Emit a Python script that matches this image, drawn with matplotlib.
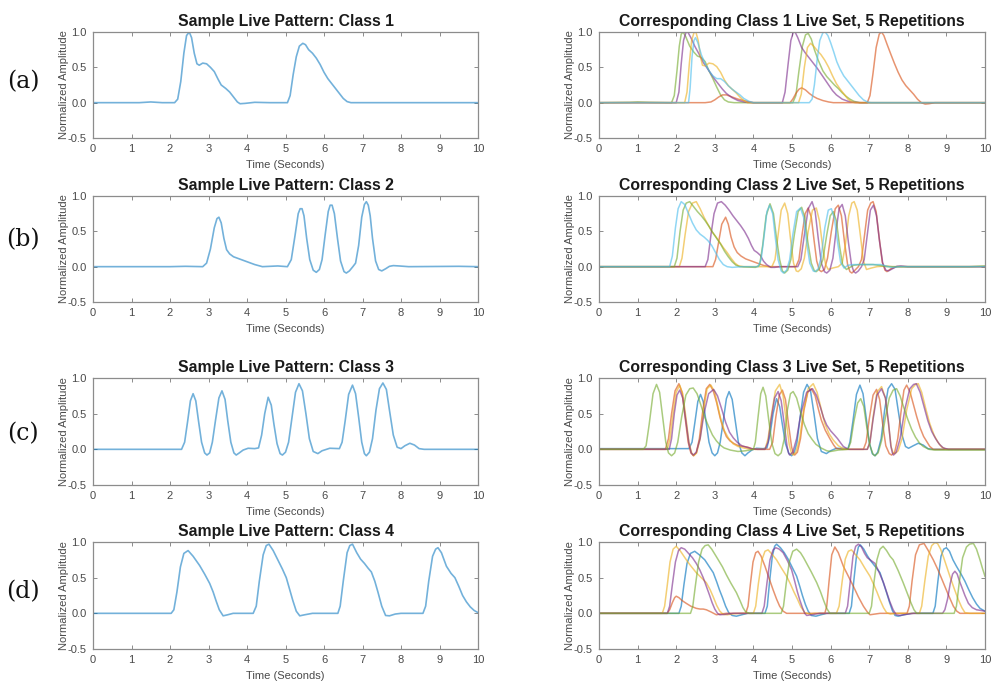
import numpy as np
import matplotlib
matplotlib.use('Agg')
import matplotlib.pyplot as plt

# --- chart data: (time [s], normalized amplitude) pairs ---
x_ticks = [0, 1, 2, 3, 4, 5, 6, 7, 8, 9, 10]
y_ticks = [-0.5, 0.0, 0.5, 1.0]
y_tick_labels = ['-0.5', '0.0', '0.5', '1.0']
panel_labels = ['(a)', '(b)', '(c)', '(d)']
class_names = ['1', '2', '3', '4']

c1_sample = [(0, 0), (1.2, 0), (1.5, 0.01), (1.8, 0), (2.12, 0), (2.2, 0.05), (2.28, 0.3), (2.36, 0.7),
             (2.43, 0.95), (2.5, 1.0), (2.56, 0.92), (2.63, 0.7), (2.7, 0.55), (2.76, 0.53), (2.85, 0.56),
             (2.95, 0.55), (3.05, 0.5), (3.15, 0.44), (3.25, 0.33), (3.33, 0.25), (3.45, 0.2), (3.55, 0.15),
             (3.65, 0.08), (3.75, 0.01), (3.82, -0.015), (3.95, -0.01), (4.2, 0.005), (4.6, 0), (5.05, 0),
             (5.12, 0.1), (5.2, 0.4), (5.28, 0.65), (5.36, 0.8), (5.45, 0.84), (5.52, 0.82), (5.6, 0.75),
             (5.7, 0.7), (5.8, 0.63), (5.9, 0.54), (6.0, 0.43), (6.1, 0.34), (6.2, 0.27), (6.3, 0.2),
             (6.4, 0.13), (6.5, 0.06), (6.6, 0.015), (6.7, 0), (10, 0)]

c2_sample = [(0, 0), (2.0, 0), (2.4, 0.005), (2.85, 0), (2.95, 0.05), (3.05, 0.25), (3.15, 0.55), (3.22, 0.68),
             (3.27, 0.7), (3.33, 0.62), (3.4, 0.4), (3.47, 0.24), (3.55, 0.18), (3.65, 0.14), (3.8, 0.11),
             (4.0, 0.07), (4.2, 0.03), (4.4, 0), (4.6, 0.005), (4.8, 0.01), (5.05, 0), (5.15, 0.1), (5.25, 0.45),
             (5.33, 0.75), (5.38, 0.82), (5.43, 0.82), (5.48, 0.72), (5.55, 0.4), (5.63, 0.1), (5.72, -0.05),
             (5.8, -0.08), (5.88, -0.04), (5.95, 0.1), (6.03, 0.45), (6.11, 0.78), (6.16, 0.87), (6.21, 0.87),
             (6.27, 0.75), (6.35, 0.4), (6.43, 0.08), (6.52, -0.07), (6.58, -0.09), (6.66, -0.06), (6.75, 0.0),
             (6.82, 0.05), (6.9, 0.3), (6.98, 0.7), (7.05, 0.88), (7.1, 0.92), (7.15, 0.87), (7.2, 0.72),
             (7.26, 0.4), (7.34, 0.08), (7.42, -0.04), (7.5, -0.06), (7.6, -0.03), (7.7, 0.005), (7.8, 0.015),
             (7.95, 0.01), (8.2, 0), (9.5, 0.005), (10, 0)]

c3_sample = [(0, 0), (2.3, 0), (2.38, 0.1), (2.46, 0.4), (2.53, 0.68), (2.6, 0.78), (2.67, 0.68), (2.74, 0.4),
             (2.82, 0.1), (2.9, -0.05), (2.96, -0.08), (3.03, -0.05), (3.1, 0.1), (3.18, 0.4), (3.27, 0.72),
             (3.35, 0.82), (3.43, 0.7), (3.5, 0.4), (3.58, 0.1), (3.66, -0.05), (3.72, -0.08), (3.8, -0.05),
             (3.9, -0.01), (4.03, 0.015), (4.2, 0.01), (4.3, 0.02), (4.38, 0.2), (4.46, 0.5), (4.55, 0.73),
             (4.63, 0.62), (4.7, 0.35), (4.78, 0.08), (4.86, -0.06), (4.92, -0.08), (5.0, -0.04), (5.08, 0.1),
             (5.17, 0.45), (5.26, 0.8), (5.35, 0.92), (5.44, 0.82), (5.53, 0.5), (5.62, 0.15), (5.72, -0.03),
             (5.84, -0.06), (5.95, -0.02), (6.15, 0.015), (6.4, 0.01), (6.47, 0.1), (6.55, 0.4), (6.64, 0.77),
             (6.74, 0.9), (6.82, 0.78), (6.9, 0.45), (6.98, 0.1), (7.05, -0.06), (7.1, -0.09), (7.18, -0.04),
             (7.26, 0.15), (7.35, 0.55), (7.44, 0.85), (7.53, 0.93), (7.62, 0.84), (7.7, 0.55), (7.8, 0.2),
             (7.9, 0.03), (8.0, 0.01), (8.1, 0.05), (8.23, 0.085), (8.35, 0.06), (8.47, 0.01), (8.6, 0),
             (10, 0)]

c4_sample = [(0, 0), (2.03, 0), (2.1, 0.05), (2.18, 0.3), (2.27, 0.65), (2.36, 0.84), (2.47, 0.88), (2.6, 0.8),
             (2.77, 0.67), (2.9, 0.55), (3.03, 0.42), (3.12, 0.3), (3.2, 0.17), (3.28, 0.05), (3.38, -0.035),
             (3.5, -0.02), (3.64, 0), (4.16, 0), (4.24, 0.1), (4.32, 0.45), (4.42, 0.82), (4.5, 0.95),
             (4.57, 0.97), (4.68, 0.88), (4.8, 0.75), (4.92, 0.62), (5.02, 0.5), (5.1, 0.35), (5.19, 0.18),
             (5.28, 0.03), (5.37, -0.035), (5.5, -0.02), (5.7, 0), (6.36, 0), (6.42, 0.1), (6.5, 0.45),
             (6.6, 0.85), (6.67, 0.95), (6.74, 0.97), (6.85, 0.85), (6.95, 0.76), (7.05, 0.7), (7.15, 0.63),
             (7.23, 0.58), (7.32, 0.45), (7.4, 0.3), (7.5, 0.1), (7.6, -0.03), (7.7, -0.035), (7.85, -0.01),
             (8.0, 0), (8.57, 0), (8.64, 0.1), (8.72, 0.45), (8.82, 0.8), (8.9, 0.9), (8.96, 0.92),
             (9.05, 0.85), (9.18, 0.66), (9.3, 0.56), (9.4, 0.5), (9.5, 0.38), (9.6, 0.25), (9.7, 0.16),
             (9.8, 0.09), (9.9, 0.04), (10, 0.01)]

# class 1 live set
c1_green = [(0, 0), (0.8, 0.005), (1.0, 0.01), (1.3, 0.005), (1.88, 0), (1.95, 0.1), (2.02, 0.45), (2.08, 0.8),
            (2.13, 0.97), (2.18, 1.0), (2.25, 0.93), (2.35, 0.8), (2.45, 0.72), (2.55, 0.66), (2.65, 0.64),
            (2.75, 0.58), (2.85, 0.45), (2.95, 0.34), (3.05, 0.22), (3.15, 0.11), (3.25, 0.04), (3.35, 0.01),
            (3.5, 0), (5.02, 0), (5.1, 0.1), (5.18, 0.45), (5.27, 0.8), (5.35, 0.96), (5.42, 0.98), (5.5, 0.9),
            (5.58, 0.75), (5.68, 0.6), (5.8, 0.45), (5.9, 0.37), (6.0, 0.31), (6.1, 0.25), (6.2, 0.2),
            (6.3, 0.14), (6.4, 0.09), (6.5, 0.05), (6.6, 0.02), (6.75, 0), (10, 0)]
c1_purple = [(0, 0), (2.0, 0), (2.07, 0.15), (2.13, 0.55), (2.19, 0.88), (2.25, 0.99), (2.3, 1.0), (2.38, 0.92),
             (2.48, 0.8), (2.6, 0.68), (2.7, 0.57), (2.8, 0.49), (2.9, 0.41), (3.0, 0.33), (3.1, 0.26),
             (3.2, 0.19), (3.3, 0.13), (3.45, 0.07), (3.6, 0.03), (3.8, 0.005), (4.0, 0), (4.75, 0),
             (4.82, 0.15), (4.9, 0.55), (4.97, 0.88), (5.03, 0.99), (5.08, 1.0), (5.15, 0.92), (5.25, 0.78),
             (5.35, 0.7), (5.45, 0.63), (5.55, 0.56), (5.65, 0.49), (5.75, 0.41), (5.85, 0.33), (5.95, 0.25),
             (6.05, 0.17), (6.15, 0.11), (6.3, 0.05), (6.45, 0.02), (6.6, 0.005), (6.8, 0), (10, 0)]
c1_yellow = [(0, 0), (2.22, 0), (2.28, 0.15), (2.34, 0.55), (2.4, 0.88), (2.46, 0.99), (2.51, 1.0), (2.57, 0.88),
             (2.63, 0.65), (2.68, 0.53), (2.75, 0.52), (2.85, 0.56), (2.95, 0.55), (3.05, 0.51), (3.15, 0.43),
             (3.25, 0.32), (3.35, 0.24), (3.45, 0.19), (3.55, 0.14), (3.65, 0.08), (3.75, 0.03), (3.85, 0),
             (5.17, 0), (5.24, 0.12), (5.32, 0.5), (5.4, 0.78), (5.48, 0.84), (5.56, 0.8), (5.65, 0.74),
             (5.75, 0.68), (5.85, 0.6), (5.95, 0.5), (6.05, 0.38), (6.15, 0.27), (6.25, 0.19), (6.35, 0.12),
             (6.45, 0.05), (6.55, 0.01), (6.65, 0), (10, 0)]
c1_lightblue = [(0, 0), (2.32, 0), (2.36, 0.2), (2.41, 0.65), (2.46, 0.88), (2.5, 0.92), (2.56, 0.85),
                (2.65, 0.68), (2.75, 0.55), (2.85, 0.45), (2.95, 0.38), (3.05, 0.34), (3.15, 0.34), (3.25, 0.3),
                (3.35, 0.24), (3.45, 0.19), (3.55, 0.15), (3.65, 0.11), (3.75, 0.06), (3.88, 0.02), (4.0, 0),
                (5.45, 0), (5.52, 0.05), (5.58, 0.25), (5.65, 0.6), (5.72, 0.88), (5.8, 0.99), (5.86, 1.0),
                (5.93, 0.95), (6.0, 0.85), (6.08, 0.72), (6.16, 0.58), (6.24, 0.48), (6.34, 0.38), (6.44, 0.31),
                (6.54, 0.24), (6.64, 0.17), (6.74, 0.1), (6.85, 0.04), (6.97, 0.005), (7.05, 0), (10, 0)]
c1_orange = [(0, 0), (2.75, 0), (2.9, 0.01), (3.0, 0.04), (3.1, 0.08), (3.2, 0.11), (3.3, 0.11), (3.45, 0.08),
             (3.6, 0.05), (3.75, 0.03), (3.9, 0.01), (4.0, 0), (4.95, 0), (5.02, 0.05), (5.1, 0.13), (5.18, 0.19),
             (5.25, 0.21), (5.35, 0.18), (5.45, 0.13), (5.55, 0.09), (5.65, 0.06), (5.8, 0.03), (5.95, 0.01),
             (6.07, 0), (6.95, 0), (7.02, 0.1), (7.1, 0.42), (7.18, 0.78), (7.26, 0.97), (7.32, 1.0),
             (7.38, 0.95), (7.46, 0.83), (7.55, 0.7), (7.65, 0.56), (7.75, 0.43), (7.85, 0.32), (7.95, 0.24),
             (8.05, 0.18), (8.15, 0.12), (8.25, 0.05), (8.35, 0), (8.45, -0.02), (8.55, -0.015), (8.7, 0),
             (10, 0)]

# class 2 live set
c2_lightblue = [(0, 0), (1.83, 0), (1.9, 0.15), (1.98, 0.55), (2.05, 0.82), (2.13, 0.92), (2.22, 0.88),
                (2.32, 0.75), (2.42, 0.62), (2.52, 0.52), (2.62, 0.46), (2.72, 0.42), (2.82, 0.37), (2.92, 0.3),
                (3.02, 0.2), (3.12, 0.1), (3.22, 0.03), (3.32, 0), (3.45, -0.01), (3.7, 0), (4.12, 0),
                (4.2, 0.1), (4.28, 0.45), (4.35, 0.78), (4.42, 0.87), (4.5, 0.75), (4.57, 0.4), (4.64, 0.1),
                (4.72, -0.06), (4.78, -0.09), (4.86, -0.05), (4.94, 0.1), (5.02, 0.45), (5.12, 0.78),
                (5.22, 0.83), (5.3, 0.7), (5.38, 0.35), (5.46, 0.05), (5.55, -0.06), (5.6, -0.07),
                (5.68, -0.03), (5.76, 0.15), (5.85, 0.55), (5.94, 0.8), (6.02, 0.82), (6.1, 0.68), (6.18, 0.35),
                (6.26, 0.06), (6.35, -0.02), (6.45, 0.02), (6.6, 0.03), (7.3, 0.03), (7.5, 0), (7.6, -0.01),
                (7.8, 0), (10, 0)]
c2_green = [(0, 0), (1.95, 0), (2.02, 0.12), (2.1, 0.5), (2.18, 0.8), (2.26, 0.9), (2.35, 0.92), (2.45, 0.85),
            (2.55, 0.78), (2.65, 0.72), (2.75, 0.65), (2.85, 0.57), (2.95, 0.48), (3.05, 0.4), (3.15, 0.32),
            (3.25, 0.22), (3.35, 0.14), (3.45, 0.07), (3.55, 0.02), (3.65, 0), (4.05, -0.01), (4.16, 0.02),
            (4.24, 0.3), (4.33, 0.72), (4.43, 0.89), (4.52, 0.75), (4.6, 0.4), (4.68, 0.1), (4.75, -0.06),
            (4.81, -0.09), (4.89, -0.05), (4.97, 0.1), (5.06, 0.45), (5.16, 0.78), (5.25, 0.84), (5.33, 0.7),
            (5.41, 0.35), (5.5, 0.05), (5.58, -0.06), (5.63, -0.07), (5.71, -0.03), (5.8, 0.1), (5.9, 0.45),
            (5.99, 0.72), (6.07, 0.78), (6.15, 0.65), (6.23, 0.3), (6.31, 0.03), (6.41, -0.04), (6.5, -0.01),
            (6.6, 0.02), (6.75, 0.03), (7.1, 0.03), (7.3, 0.015), (7.45, 0), (9.6, 0), (10, 0.01)]
c2_yellow = [(0, 0), (2.08, 0), (2.15, 0.12), (2.23, 0.45), (2.32, 0.78), (2.42, 0.9), (2.52, 0.92), (2.62, 0.82),
             (2.72, 0.7), (2.82, 0.6), (2.92, 0.5), (3.02, 0.43), (3.12, 0.35), (3.22, 0.27), (3.32, 0.2),
             (3.42, 0.12), (3.52, 0.05), (3.62, 0.01), (3.75, 0), (4.48, 0), (4.56, 0.1), (4.64, 0.45),
             (4.72, 0.8), (4.81, 0.9), (4.89, 0.75), (4.96, 0.4), (5.04, 0.05), (5.11, -0.06), (5.16, -0.07),
             (5.24, -0.03), (5.32, 0.12), (5.42, 0.5), (5.53, 0.8), (5.63, 0.83), (5.71, 0.65), (5.79, 0.3),
             (5.87, 0.03), (5.94, -0.04), (6.05, -0.02), (6.2, 0), (6.3, 0.05), (6.38, 0.3), (6.47, 0.72),
             (6.55, 0.9), (6.61, 0.92), (6.69, 0.8), (6.77, 0.45), (6.85, 0.08), (6.93, -0.04), (7.05, -0.02),
             (7.2, 0), (7.45, 0.01), (7.6, 0), (10, 0)]
c2_purple = [(0, 0), (2.75, 0), (2.82, 0.1), (2.9, 0.45), (2.98, 0.75), (3.07, 0.9), (3.17, 0.92), (3.27, 0.87),
             (3.37, 0.8), (3.47, 0.72), (3.57, 0.65), (3.67, 0.58), (3.77, 0.5), (3.87, 0.4), (3.95, 0.3),
             (4.02, 0.23), (4.1, 0.2), (4.18, 0.16), (4.26, 0.08), (4.34, 0.03), (4.45, -0.01), (4.55, -0.01),
             (4.7, 0), (5.15, 0), (5.23, 0.1), (5.32, 0.45), (5.42, 0.82), (5.52, 0.92), (5.6, 0.78),
             (5.68, 0.4), (5.76, 0.05), (5.84, -0.07), (5.9, -0.09), (5.98, -0.05), (6.06, 0.12), (6.14, 0.5),
             (6.22, 0.82), (6.3, 0.88), (6.38, 0.72), (6.46, 0.35), (6.54, 0.03), (6.6, -0.07), (6.65, -0.09),
             (6.72, -0.06), (6.8, 0.0), (6.87, 0.1), (6.95, 0.45), (7.03, 0.8), (7.11, 0.87), (7.19, 0.72),
             (7.27, 0.35), (7.35, 0.05), (7.43, -0.05), (7.5, -0.06), (7.6, -0.03), (7.72, 0.005), (7.82, 0.01),
             (8.0, 0), (10, 0)]
c2_orange = [(0, 0), (2.95, 0), (3.02, 0.1), (3.1, 0.35), (3.18, 0.6), (3.28, 0.7), (3.35, 0.6), (3.42, 0.42),
             (3.5, 0.28), (3.58, 0.2), (3.68, 0.15), (3.8, 0.11), (3.95, 0.08), (4.1, 0.05), (4.25, 0.02),
             (4.4, 0), (5.1, 0), (5.18, 0.1), (5.26, 0.45), (5.34, 0.75), (5.42, 0.83), (5.5, 0.7), (5.57, 0.38),
             (5.64, 0.08), (5.71, -0.05), (5.76, -0.07), (5.84, -0.04), (5.92, 0.12), (6.02, 0.5), (6.12, 0.82),
             (6.2, 0.87), (6.28, 0.72), (6.36, 0.35), (6.44, 0.03), (6.5, -0.07), (6.55, -0.09), (6.63, -0.05),
             (6.72, 0.0), (6.8, 0.1), (6.88, 0.45), (6.96, 0.8), (7.04, 0.9), (7.1, 0.92), (7.18, 0.78),
             (7.26, 0.4), (7.34, 0.06), (7.41, -0.05), (7.46, -0.07), (7.56, -0.03), (7.7, 0), (10, 0)]

# class 3 live set
c3_green = [(0, 0), (1.15, 0), (1.22, 0.05), (1.3, 0.35), (1.4, 0.78), (1.49, 0.91), (1.57, 0.8), (1.65, 0.45),
            (1.73, 0.1), (1.8, -0.05), (1.88, -0.09), (1.96, -0.05), (2.04, 0.1), (2.14, 0.45), (2.25, 0.76),
            (2.35, 0.85), (2.44, 0.86), (2.54, 0.78), (2.64, 0.62), (2.74, 0.45), (2.84, 0.32), (2.94, 0.2),
            (3.04, 0.12), (3.14, 0.06), (3.24, 0.02), (3.4, -0.01), (3.6, -0.03), (3.8, -0.02), (4.0, 0),
            (4.05, 0.1), (4.12, 0.45), (4.19, 0.78), (4.25, 0.87), (4.32, 0.75), (4.4, 0.4), (4.48, 0.08),
            (4.56, -0.06), (4.64, -0.09), (4.72, -0.05), (4.8, 0.15), (4.88, 0.55), (4.96, 0.78), (5.03, 0.81),
            (5.12, 0.72), (5.22, 0.52), (5.32, 0.35), (5.42, 0.22), (5.52, 0.14), (5.62, 0.07), (5.75, 0.02),
            (5.9, -0.02), (6.0, -0.03), (6.2, -0.01), (6.45, 0), (6.52, 0.1), (6.6, 0.38), (6.7, 0.65),
            (6.78, 0.71), (6.86, 0.6), (6.94, 0.3), (7.02, 0.05), (7.1, -0.07), (7.15, -0.09), (7.23, -0.05),
            (7.32, 0.12), (7.42, 0.45), (7.52, 0.72), (7.62, 0.83), (7.71, 0.85), (7.8, 0.75), (7.9, 0.58),
            (8.0, 0.42), (8.1, 0.28), (8.2, 0.17), (8.3, 0.09), (8.4, 0.04), (8.55, 0), (8.7, -0.01),
            (9.0, -0.01), (10, -0.01)]
c3_blue = [(0, 0.01), (2.33, 0.01), (2.41, 0.1), (2.49, 0.4), (2.56, 0.67), (2.63, 0.77), (2.7, 0.67), (2.77, 0.4),
           (2.85, 0.1), (2.93, -0.05), (3.0, -0.09), (3.07, -0.05), (3.14, 0.1), (3.22, 0.4), (3.3, 0.71),
           (3.37, 0.81), (3.45, 0.7), (3.53, 0.4), (3.61, 0.1), (3.7, -0.05), (3.78, -0.09), (3.86, -0.05),
           (3.96, -0.01), (4.08, 0.015), (4.25, 0.01), (4.35, 0.02), (4.43, 0.2), (4.51, 0.5), (4.6, 0.71),
           (4.68, 0.6), (4.75, 0.35), (4.83, 0.08), (4.92, -0.06), (4.99, -0.09), (5.06, -0.04), (5.13, 0.1),
           (5.21, 0.45), (5.3, 0.8), (5.39, 0.91), (5.48, 0.82), (5.57, 0.5), (5.66, 0.15), (5.76, -0.03),
           (5.89, -0.06), (6.0, -0.02), (6.15, 0.015), (6.45, 0.01), (6.5, 0.1), (6.58, 0.4), (6.67, 0.77),
           (6.76, 0.9), (6.84, 0.78), (6.92, 0.45), (7.0, 0.1), (7.08, -0.06), (7.15, -0.09), (7.22, -0.04),
           (7.31, 0.15), (7.4, 0.55), (7.49, 0.85), (7.58, 0.92), (7.67, 0.84), (7.75, 0.55), (7.85, 0.2),
           (7.94, 0.04), (8.02, 0.015), (8.14, 0.05), (8.27, 0.085), (8.4, 0.06), (8.52, 0.01), (8.65, 0),
           (10, 0)]
c3_orange = [(0, 0), (1.72, 0), (1.8, 0.15), (1.88, 0.5), (1.97, 0.82), (2.07, 0.92), (2.15, 0.8), (2.23, 0.45),
             (2.31, 0.1), (2.38, -0.05), (2.45, -0.09), (2.52, -0.05), (2.6, 0.15), (2.69, 0.55), (2.78, 0.85),
             (2.87, 0.91), (2.96, 0.82), (3.05, 0.65), (3.13, 0.46), (3.21, 0.3), (3.3, 0.18), (3.39, 0.12),
             (3.5, 0.08), (3.62, 0.05), (3.75, 0.04), (3.86, 0.03), (3.95, 0.01), (4.05, 0), (4.42, 0),
             (4.5, 0.1), (4.58, 0.45), (4.67, 0.76), (4.75, 0.83), (4.83, 0.7), (4.91, 0.35), (4.99, 0.03),
             (5.04, -0.06), (5.07, -0.08), (5.14, -0.04), (5.22, 0.15), (5.31, 0.55), (5.41, 0.8), (5.5, 0.85),
             (5.6, 0.75), (5.68, 0.57), (5.76, 0.41), (5.86, 0.27), (5.98, 0.15), (6.08, 0.06), (6.15, 0.01),
             (6.3, 0), (6.85, 0), (6.92, 0.1), (7.0, 0.42), (7.1, 0.76), (7.19, 0.84), (7.27, 0.7), (7.35, 0.35),
             (7.43, 0.05), (7.52, -0.06), (7.58, -0.08), (7.66, -0.04), (7.74, 0.15), (7.83, 0.55), (7.9, 0.83),
             (7.97, 0.9), (8.06, 0.8), (8.15, 0.62), (8.23, 0.46), (8.32, 0.3), (8.41, 0.18), (8.49, 0.11),
             (8.57, 0.04), (8.66, 0), (10, 0)]
c3_yellow = [(0, 0), (1.77, 0), (1.84, 0.15), (1.92, 0.5), (2.0, 0.8), (2.09, 0.9), (2.17, 0.78), (2.25, 0.45),
             (2.33, 0.1), (2.4, -0.05), (2.45, -0.09), (2.53, -0.05), (2.62, 0.15), (2.71, 0.55), (2.8, 0.85),
             (2.9, 0.9), (3.0, 0.8), (3.08, 0.6), (3.16, 0.41), (3.25, 0.26), (3.35, 0.16), (3.47, 0.08),
             (3.6, 0.04), (3.78, 0.015), (3.95, 0), (4.3, 0), (4.38, 0.15), (4.47, 0.5), (4.57, 0.82),
             (4.68, 0.91), (4.77, 0.75), (4.85, 0.4), (4.93, 0.06), (4.99, -0.06), (5.03, -0.08), (5.1, -0.04),
             (5.2, 0.15), (5.3, 0.55), (5.42, 0.85), (5.55, 0.92), (5.65, 0.8), (5.75, 0.58), (5.85, 0.36),
             (5.96, 0.22), (6.07, 0.13), (6.2, 0.05), (6.33, 0.01), (6.5, 0), (6.95, 0), (7.02, 0.1),
             (7.1, 0.45), (7.2, 0.8), (7.32, 0.88), (7.42, 0.72), (7.5, 0.35), (7.57, 0.03), (7.62, -0.05),
             (7.67, -0.06), (7.75, -0.02), (7.85, 0.15), (7.97, 0.55), (8.1, 0.85), (8.2, 0.91), (8.27, 0.92),
             (8.36, 0.8), (8.47, 0.56), (8.57, 0.36), (8.68, 0.2), (8.78, 0.1), (8.88, 0.03), (9.0, 0), (10, 0)]
c3_purple = [(0, 0), (1.82, 0), (1.88, 0.15), (1.95, 0.5), (2.02, 0.76), (2.09, 0.83), (2.17, 0.72), (2.25, 0.4),
             (2.33, 0.08), (2.39, -0.05), (2.44, -0.08), (2.52, -0.04), (2.62, 0.15), (2.72, 0.5), (2.84, 0.78),
             (2.97, 0.84), (3.07, 0.75), (3.17, 0.58), (3.28, 0.38), (3.38, 0.24), (3.48, 0.16), (3.58, 0.1),
             (3.7, 0.05), (3.82, 0.03), (3.95, 0.01), (4.1, 0), (4.3, 0), (4.38, 0.1), (4.46, 0.42), (4.55, 0.72),
             (4.64, 0.81), (4.72, 0.68), (4.8, 0.35), (4.87, 0.05), (4.91, -0.05), (4.94, -0.08), (5.02, -0.04),
             (5.12, 0.15), (5.23, 0.5), (5.38, 0.8), (5.53, 0.85), (5.63, 0.76), (5.73, 0.6), (5.82, 0.44),
             (5.9, 0.34), (6.0, 0.26), (6.1, 0.2), (6.18, 0.15), (6.26, 0.09), (6.33, 0.04), (6.46, 0),
             (6.95, 0), (7.02, 0.1), (7.1, 0.42), (7.2, 0.76), (7.32, 0.85), (7.42, 0.72), (7.5, 0.38),
             (7.56, 0.05), (7.6, -0.05), (7.63, -0.08), (7.7, -0.04), (7.8, 0.15), (7.92, 0.55), (8.05, 0.85),
             (8.15, 0.91), (8.22, 0.92), (8.32, 0.8), (8.42, 0.6), (8.52, 0.4), (8.62, 0.25), (8.72, 0.15),
             (8.82, 0.07), (8.92, 0.02), (9.05, 0), (10, 0)]

# class 4 live set
c4_yellow = [(0, 0), (1.64, 0), (1.7, 0.1), (1.77, 0.4), (1.84, 0.72), (1.92, 0.9), (2.0, 0.94), (2.1, 0.88),
             (2.2, 0.8), (2.3, 0.72), (2.4, 0.65), (2.52, 0.57), (2.65, 0.5), (2.78, 0.43), (2.88, 0.33),
             (2.96, 0.23), (3.05, 0.11), (3.13, 0.03), (3.22, -0.015), (3.32, -0.02), (3.5, -0.005), (3.7, 0),
             (4.0, 0), (4.06, 0.1), (4.13, 0.42), (4.22, 0.75), (4.3, 0.87), (4.38, 0.89), (4.48, 0.83),
             (4.6, 0.75), (4.72, 0.64), (4.86, 0.52), (4.96, 0.41), (5.05, 0.3), (5.14, 0.2), (5.23, 0.09),
             (5.33, 0.01), (5.45, -0.01), (5.6, 0), (6.15, 0), (6.22, 0.1), (6.3, 0.45), (6.38, 0.76),
             (6.46, 0.87), (6.54, 0.89), (6.65, 0.82), (6.76, 0.75), (6.88, 0.64), (7.02, 0.52), (7.12, 0.4),
             (7.2, 0.3), (7.28, 0.19), (7.37, 0.08), (7.45, 0.01), (7.55, -0.01), (7.7, 0), (8.3, 0),
             (8.36, 0.1), (8.44, 0.45), (8.53, 0.8), (8.62, 0.95), (8.7, 0.99), (8.77, 0.98), (8.85, 0.9),
             (8.93, 0.78), (9.01, 0.65), (9.09, 0.52), (9.2, 0.35), (9.31, 0.19), (9.4, 0.08), (9.48, 0.01),
             (9.6, 0), (10, 0)]
c4_purple = [(0, 0), (1.77, 0), (1.83, 0.1), (1.9, 0.4), (1.98, 0.72), (2.06, 0.88), (2.13, 0.92), (2.22, 0.9),
             (2.32, 0.84), (2.42, 0.78), (2.52, 0.7), (2.61, 0.61), (2.7, 0.5), (2.78, 0.38), (2.86, 0.26),
             (2.93, 0.15), (3.0, 0.06), (3.07, 0.0), (3.13, -0.02), (3.25, -0.015), (3.47, 0), (4.22, 0),
             (4.28, 0.1), (4.35, 0.42), (4.43, 0.75), (4.51, 0.89), (4.58, 0.92), (4.67, 0.9), (4.77, 0.85),
             (4.88, 0.74), (4.99, 0.61), (5.07, 0.45), (5.14, 0.3), (5.2, 0.19), (5.27, 0.08), (5.33, 0.0),
             (5.38, -0.03), (5.5, -0.02), (5.72, 0), (6.38, 0), (6.44, 0.1), (6.51, 0.45), (6.58, 0.8),
             (6.65, 0.94), (6.72, 0.97), (6.8, 0.93), (6.88, 0.84), (6.95, 0.78), (7.05, 0.74), (7.15, 0.7),
             (7.22, 0.62), (7.3, 0.52), (7.37, 0.43), (7.45, 0.3), (7.53, 0.17), (7.62, 0.05), (7.7, -0.02),
             (7.8, -0.03), (7.95, -0.015), (8.15, 0), (8.9, 0), (8.96, 0.05), (9.03, 0.2), (9.1, 0.42),
             (9.16, 0.55), (9.22, 0.59), (9.28, 0.55), (9.34, 0.45), (9.39, 0.38), (9.48, 0.25), (9.57, 0.14),
             (9.67, 0.08), (9.78, 0.05), (9.9, 0.04), (10, 0.03)]
c4_blue = [(0, 0), (2.07, 0), (2.13, 0.1), (2.2, 0.4), (2.28, 0.7), (2.37, 0.84), (2.48, 0.87), (2.6, 0.82),
           (2.74, 0.75), (2.85, 0.66), (2.96, 0.57), (3.05, 0.44), (3.12, 0.33), (3.2, 0.22), (3.28, 0.1),
           (3.36, 0.01), (3.45, -0.03), (3.56, -0.04), (3.7, -0.02), (3.85, 0), (4.3, 0), (4.36, 0.1),
           (4.42, 0.45), (4.49, 0.8), (4.55, 0.94), (4.6, 0.97), (4.7, 0.92), (4.8, 0.85), (4.9, 0.76),
           (5.01, 0.64), (5.12, 0.52), (5.2, 0.38), (5.27, 0.25), (5.35, 0.12), (5.42, 0.03), (5.5, -0.03),
           (5.62, -0.04), (5.75, -0.02), (5.9, 0), (6.48, 0), (6.54, 0.1), (6.6, 0.45), (6.67, 0.8),
           (6.72, 0.93), (6.77, 0.96), (6.86, 0.9), (6.95, 0.81), (7.02, 0.75), (7.15, 0.66), (7.28, 0.57),
           (7.36, 0.44), (7.45, 0.29), (7.53, 0.15), (7.6, 0.04), (7.67, -0.03), (7.75, -0.04), (7.9, -0.02),
           (8.1, 0), (8.65, 0), (8.71, 0.1), (8.78, 0.45), (8.86, 0.8), (8.93, 0.9), (9.0, 0.92), (9.08, 0.87),
           (9.17, 0.75), (9.26, 0.66), (9.37, 0.56), (9.48, 0.45), (9.58, 0.33), (9.68, 0.22), (9.78, 0.13),
           (9.87, 0.07), (10, 0.03)]
c4_green = [(0, 0), (2.37, 0), (2.43, 0.1), (2.5, 0.4), (2.58, 0.72), (2.67, 0.9), (2.75, 0.95), (2.83, 0.96),
            (2.92, 0.9), (3.0, 0.83), (3.09, 0.75), (3.2, 0.65), (3.3, 0.54), (3.42, 0.42), (3.56, 0.29),
            (3.66, 0.17), (3.73, 0.08), (3.8, 0.02), (3.9, 0), (4.72, 0), (4.78, 0.1), (4.85, 0.42), (4.93, 0.72),
            (5.02, 0.87), (5.12, 0.9), (5.22, 0.85), (5.3, 0.78), (5.38, 0.7), (5.5, 0.58), (5.64, 0.43),
            (5.74, 0.3), (5.82, 0.18), (5.9, 0.07), (5.98, 0), (7.0, 0), (7.06, 0.1), (7.12, 0.42), (7.2, 0.75),
            (7.28, 0.9), (7.36, 0.94), (7.45, 0.88), (7.54, 0.8), (7.62, 0.75), (7.75, 0.6), (7.88, 0.43),
            (7.98, 0.29), (8.08, 0.15), (8.16, 0.05), (8.23, 0), (9.2, 0), (9.26, 0.1), (9.33, 0.42),
            (9.42, 0.78), (9.52, 0.93), (9.6, 0.97), (9.7, 0.98), (9.78, 0.9), (9.87, 0.75), (9.94, 0.62),
            (10, 0.52)]
c4_orange = [(0, 0), (1.77, 0), (1.83, 0.05), (1.9, 0.15), (1.96, 0.22), (2.0, 0.24), (2.07, 0.22), (2.15, 0.18),
             (2.26, 0.14), (2.38, 0.1), (2.52, 0.07), (2.62, 0.06), (2.7, 0.06), (2.78, 0.05), (2.9, 0.02),
             (3.04, -0.02), (3.15, -0.01), (3.3, 0), (3.8, 0), (3.86, 0.1), (3.92, 0.4), (3.99, 0.72),
             (4.06, 0.85), (4.12, 0.87), (4.2, 0.8), (4.3, 0.66), (4.4, 0.5), (4.51, 0.33), (4.6, 0.2),
             (4.68, 0.1), (4.77, 0.03), (4.86, 0), (5.85, 0), (5.9, 0.1), (5.96, 0.45), (6.03, 0.82),
             (6.11, 0.93), (6.2, 0.85), (6.33, 0.66), (6.46, 0.52), (6.59, 0.38), (6.72, 0.23), (6.85, 0.1),
             (6.95, 0.02), (7.02, -0.02), (7.15, -0.01), (7.28, 0), (7.98, 0), (8.04, 0.1), (8.11, 0.45),
             (8.2, 0.82), (8.3, 0.96), (8.42, 0.98), (8.53, 0.88), (8.66, 0.75), (8.79, 0.6), (8.92, 0.43),
             (9.05, 0.26), (9.18, 0.1), (9.27, 0.03), (9.35, 0), (10, 0)]

# MATLAB default line colours
COL = {
    'blue': '#0072BD', 'orange': '#D95319', 'yellow': '#EDB120',
    'purple': '#7E2F8E', 'green': '#77AC30', 'lightblue': '#4DBEEE',
}

samples = [c1_sample, c2_sample, c3_sample, c4_sample]
live_sets = [
    [('green', c1_green), ('orange', c1_orange), ('purple', c1_purple), ('yellow', c1_yellow), ('lightblue', c1_lightblue)],
    [('orange', c2_orange), ('yellow', c2_yellow), ('purple', c2_purple), ('green', c2_green), ('lightblue', c2_lightblue)],
    [('blue', c3_blue), ('orange', c3_orange), ('yellow', c3_yellow), ('purple', c3_purple), ('green', c3_green)],
    [('blue', c4_blue), ('orange', c4_orange), ('yellow', c4_yellow), ('purple', c4_purple), ('green', c4_green)],
]


def style_axes(ax, title):
    """MATLAB-like box axes with inward ticks on every side."""
    ax.set_xlim(0, 10)
    ax.set_ylim(-0.5, 1.0)
    ax.set_xticks(x_ticks)
    ax.set_yticks(y_ticks)
    ax.set_yticklabels(y_tick_labels)
    ax.tick_params(direction='in', length=3, width=0.7, color='#8c8c8c', labelcolor='#4a4a4a',
                   labelsize=8, top=True, right=True, pad=4.5)
    for sp in ax.spines.values():
        sp.set_color('#8c8c8c')
        sp.set_linewidth(0.9)
    ax.set_xlabel('Time (Seconds)', fontsize=8, color='#4a4a4a', labelpad=4)
    ax.set_ylabel('Normalized Amplitude', fontsize=8, color='#4a4a4a', labelpad=-1)
    ax.set_title(title, fontsize=11.3, fontweight='bold', color='#1a1a1a', pad=4)


def main():
    plt.rcParams['font.family'] = ['Liberation Sans', 'DejaVu Sans']

    W, H = 991, 682
    fig = plt.figure(figsize=(W / 100, H / 100), dpi=100)

    # pixel boxes of the axes (left, width) and (top, height)
    cols = [(93, 385), (599, 386)]
    rows = [(32, 106), (196, 106), (378, 107), (542, 107)]
    label_y = [82, 240, 434, 592]

    for r, (top, h) in enumerate(rows):
        # left: sample pattern
        left, w = cols[0]
        ax = fig.add_axes([left / W, 1 - (top + h) / H, w / W, h / H])
        t, v = zip(*samples[r])
        ax.plot(t, v, color=COL['blue'], alpha=0.55, linewidth=1.2, solid_joinstyle='round')
        style_axes(ax, f'Sample Live Pattern: Class {class_names[r]}')

        # right: live set repetitions
        left, w = cols[1]
        ax = fig.add_axes([left / W, 1 - (top + h) / H, w / W, h / H])
        for cname, series in live_sets[r]:
            t, v = zip(*series)
            ax.plot(t, v, color=COL[cname], alpha=0.62, linewidth=1.1, solid_joinstyle='round')
        style_axes(ax, f'Corresponding Class {class_names[r]} Live Set, 5 Repetitions')

        fig.text(23 / W, 1 - label_y[r] / H, panel_labels[r], ha='center', va='center',
                 fontsize=17, family='DejaVu Serif', color='#111111')

    fig.savefig('out.png', dpi=100)


if __name__ == '__main__':
    main()
